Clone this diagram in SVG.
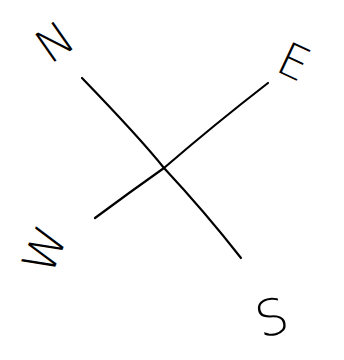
<svg xmlns="http://www.w3.org/2000/svg" width="344" height="360" viewBox="0 0 344 360">
<style>
.line{fill:none;stroke:#000;stroke-width:2.2;stroke-linecap:round}
.lbl{font-family:"DejaVu Sans","Liberation Sans",sans-serif;font-weight:200;font-size:46px;fill:#000;text-anchor:middle;dominant-baseline:central}
</style>
<rect width="344" height="360" fill="#fff"/>
<g id="lines">
<path class="line" d="M82,78 Q140,138 164,168 Q205,212 241,258"/>
<path class="line" d="M95,218 Q130,192 164,168 Q215,124 268,83"/>
</g>
<g id="N"><text class="lbl" x="55" y="42" transform="rotate(-35 55 42)">N</text></g>
<g id="E"><text class="lbl" x="294" y="62" transform="rotate(25 294 62)">E</text></g>
<g id="W"><text class="lbl" x="45" y="250" transform="rotate(-67 45 250)">W</text></g>
<g id="S"><text class="lbl" x="272" y="318" style="font-size:50px" transform="rotate(-15 272 318)">S</text></g>
</svg>
